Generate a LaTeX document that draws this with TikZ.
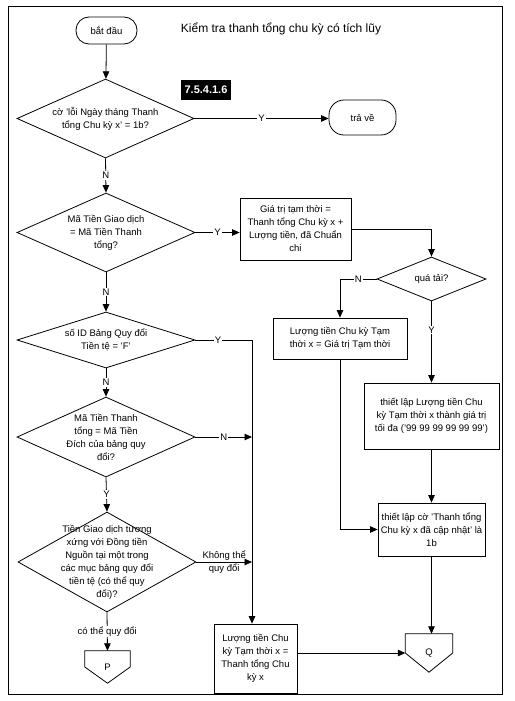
\documentclass[tikz,border=0pt]{standalone}
\usepackage{fontspec}
\setmainfont{Liberation Sans}
\usetikzlibrary{shapes.geometric,arrows.meta}
\begin{document}
\begin{tikzpicture}[x=1pt,y=-1pt,
  every node/.style={font=\fontsize{9.5}{13}\selectfont},
  box/.style={draw,line width=0.8pt,align=center,inner sep=0pt},
  term/.style={draw,line width=0.8pt,rounded corners=13pt,align=center,inner sep=0pt},
  dia/.style={draw,diamond,inner sep=0pt,line width=0.8pt},
  txt/.style={align=center,inner sep=0pt},
  lab/.style={fill=white,inner sep=1pt},
  arr/.style={-{Triangle[length=7.5pt,width=6.5pt]},line width=0.8pt},
  ln/.style={line width=0.8pt}]
\useasboundingbox (0,0) rectangle (514,701);
\draw[line width=1pt] (8,7) rectangle (502,694);

% title and tag
\node[font=\fontsize{12}{14}\selectfont] (title) at (281,29) {Kiểm tra thanh tổng chu kỳ có tích lũy};
\node[fill=black,text=white,font=\bfseries\fontsize{11}{13}\selectfont,minimum width=50pt,minimum height=20pt,inner sep=0pt] (tag) at (206,90) {7.5.4.1.6};

% terminals
\node[term,minimum width=61pt,minimum height=27pt] (start) at (106.5,30.5) {bắt đầu};
\node[term,minimum width=67pt,minimum height=35pt,rounded corners=15pt] (ret) at (362.5,117.5) {trả về};

% diamonds
\node[dia,minimum width=177pt,minimum height=79pt] (d1) at (105.5,118.5) {};
\node[txt] (t1) at (d1) {cờ 'lỗi Ngày tháng Thanh\\tổng Chu kỳ x' = 1b?};
\node[dia,minimum width=178pt,minimum height=79pt] (d2) at (106,232.5) {};
\node[txt] (t2) at (d2) {Mã Tiền Giao dịch\\= Mã Tiền Thanh\\tổng?};
\node[dia,minimum width=178pt,minimum height=56pt] (d3) at (106,340) {};
\node[txt] (t3) at (d3) {số ID Bảng Quy đổi\\Tiền tệ = 'F'};
\node[dia,minimum width=178pt,minimum height=80pt] (d4) at (106,437) {};
\node[txt] (t4) at (d4) {Mã Tiền Thanh\\tổng = Mã Tiền\\Đích của bảng quy\\đổi?};
\node[dia,minimum width=178pt,minimum height=100pt] (d5) at (107,562) {};
\node[txt] (t5) at (d5) {Tiền Giao dịch tương\\xứng với Đồng tiền\\Nguồn tại một trong\\các mục bảng quy đổi\\tiền tệ (có thể quy\\đổi)?};
\node[dia,minimum width=109pt,minimum height=44pt] (qt) at (431.5,279) {};
\node[txt] (tq) at (qt) {quá tải?};

% boxes
\node[box,minimum width=111pt,minimum height=62pt] (G) at (295.5,229) {Giá trị tạm thời =\\Thanh tổng Chu kỳ x +\\Lượng tiền, đã Chuẩn\\chi};
\node[box,minimum width=134pt,minimum height=41pt] (L1) at (340,338.5) {Lượng tiền Chu kỳ Tạm\\thời x = Giá trị Tạm thời};
\node[box,minimum width=135pt,minimum height=66pt] (M) at (431.5,416) {thiết lập Lượng tiền Chu\\kỳ Tạm thời x thành giá trị\\tối đa ('99 99 99 99 99 99')};
\node[box,minimum width=107pt,minimum height=53pt] (C) at (431.5,529.5) {thiết lập cờ 'Thanh tổng\\Chu kỳ x đã cập nhật' là\\1b};
\node[box,minimum width=83pt,minimum height=69pt] (L2) at (255.5,658.5) {Lượng tiền Chu\\kỳ Tạm thời x =\\Thanh tổng Chu\\kỳ x};

% off-page connectors
\node[minimum width=45pt,minimum height=32pt,inner sep=0pt] (P) at (107.5,667) {P};
\draw[ln] (P.north west) -- (P.north east) -- (P.east) -- (P.south) -- (P.west) -- cycle;
\node[minimum width=47pt,minimum height=38pt,inner sep=0pt] (Q) at (429,653) {Q};
\draw[ln] (Q.north west) -- (Q.north east) -- (Q.east) -- (Q.south) -- (Q.west) -- cycle;

\coordinate (vx) at (252,341);

% connectors
\draw[arr] (start) -- (d1);
\draw[arr] (d1.east) -- node[lab] {Y} (ret.west |- d1.east);
\draw[arr] (d1.south) -- node[lab] {N} (d2.north);
\draw[arr] (d2.east) -- node[lab] {Y} (G.west |- d2.east);
\draw[arr] (d2.south) -- node[lab] {N} (d3.north);
\draw[arr] (d3.east) -- node[lab,pos=0.4] {Y} (d3.east -| vx) -- (vx |- L2.north);
\draw[arr] (d3.south) -- node[lab] {N} (d4.north);
\draw[arr] (d4.east) -- node[lab] {N} (d4.east -| vx);
\draw[arr] (d4.south) -- node[lab] {Y} (d5.north);
\draw[arr] (d5.east) -- node[align=center,inner sep=1pt] {Không thể\\quy đổi} (d5.east -| vx);
\draw[arr] (d5.south) -- node[lab] {có thể quy đổi} (P.north);
\draw[arr] (G.east) -| (qt.north);
\draw[arr] (qt.west) -| node[lab,pos=0.25] {N} (L1.north);
\draw[arr] (qt.south) -- node[lab,pos=0.35] {Y} (M.north);
\draw[arr] (M.south) -- (C.north);
\draw[arr] (L1.south) |- (C.west);
\draw[arr] (C.south) -- (C.south |- Q.north);
\draw[arr] (Q.west -| L2.east) -- (Q.west);
\end{tikzpicture}
\end{document}
